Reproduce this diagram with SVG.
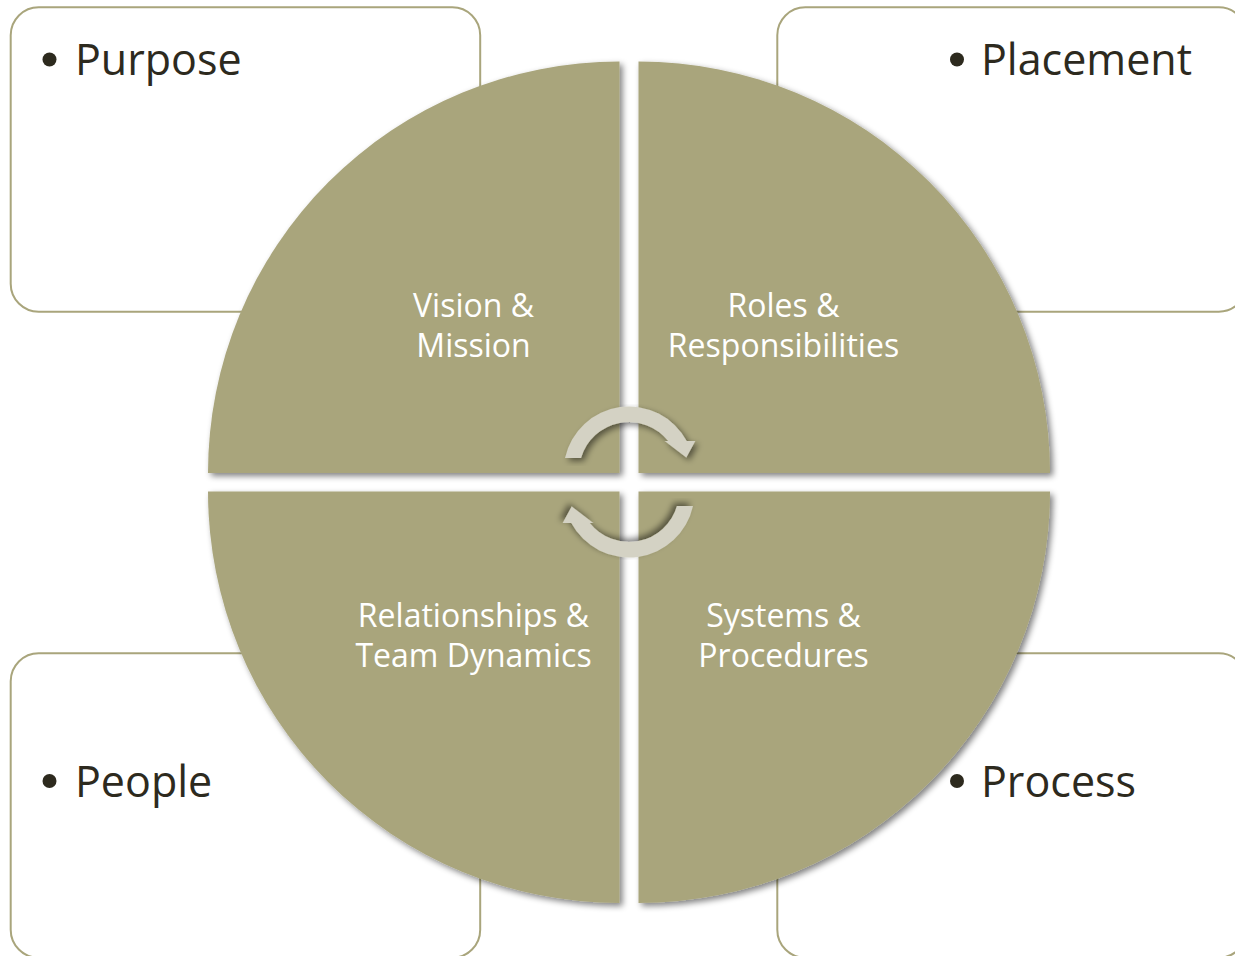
<svg xmlns="http://www.w3.org/2000/svg" width="1235" height="956" viewBox="0 0 1235 956">
  <style>
    .box { fill: #ffffff; stroke: #a9a57c; stroke-width: 2; }
    .bullet { fill: #2d2a1e; }
    .item { font-family: "Open Sans", "Liberation Sans", sans-serif; font-size: 43px; fill: #2d2a1e; }
    .quad { fill: #a9a57c; filter: url(#soft); }
    .label { font-family: "Open Sans", "Liberation Sans", sans-serif; font-size: 32px; fill: #ffffff; text-anchor: middle; }
    .cycle { fill: #d4d2c4; filter: url(#soft); }
  </style>
  <defs>
    <filter id="soft" x="-10%" y="-10%" width="125%" height="125%">
      <feGaussianBlur in="SourceAlpha" stdDeviation="3"/>
      <feOffset dx="3" dy="3" result="b"/>
      <feComponentTransfer><feFuncA type="linear" slope="0.5"/></feComponentTransfer>
      <feMerge><feMergeNode/><feMergeNode in="SourceGraphic"/></feMerge>
    </filter>
    <!-- half-turn arrow: band around (629,472), head pointing down on the right -->
    <path id="turn" d="M 565 458 A 65.5 65.5 0 0 1 686.7 441 L 695.3 441 L 686.3 457.5 L 664.7 441 L 668.2 441 A 50 50 0 0 0 581 458 Z"/>
  </defs>

  <!-- corner boxes -->
  <g id="box-purpose">
    <rect class="box" x="10.7" y="7.3" width="469.5" height="304.4" rx="28"/>
    <circle class="bullet" cx="49.5" cy="59.5" r="7"/>
    <text class="item" x="75" y="75">Purpose</text>
  </g>
  <g id="box-placement">
    <rect class="box" x="777.3" y="7.3" width="469.5" height="304.4" rx="28"/>
    <circle class="bullet" cx="957" cy="59.5" r="7"/>
    <text class="item" x="981" y="75">Placement</text>
  </g>
  <g id="box-people">
    <rect class="box" x="10.7" y="653.3" width="469.5" height="304.4" rx="28"/>
    <circle class="bullet" cx="49.5" cy="781" r="7"/>
    <text class="item" x="75" y="797">People</text>
  </g>
  <g id="box-process">
    <rect class="box" x="777.3" y="653.3" width="469.5" height="304.4" rx="28"/>
    <circle class="bullet" cx="957" cy="781" r="7"/>
    <text class="item" x="981" y="797">Process</text>
  </g>

  <!-- circle quarters -->
  <g id="vision-mission">
    <path class="quad" d="M 619.5 473 L 208 473 A 411.5 411.5 0 0 1 619.5 61.5 Z"/>
    <text class="label" x="473.5" y="317">Vision &amp;</text>
    <text class="label" x="473.5" y="357">Mission</text>
  </g>
  <g id="roles-responsibilities">
    <path class="quad" d="M 638.5 473 L 638.5 61.5 A 411.5 411.5 0 0 1 1050 473 Z"/>
    <text class="label" x="783.5" y="317">Roles &amp;</text>
    <text class="label" x="783.5" y="357">Responsibilities</text>
  </g>
  <g id="relationships-team">
    <path class="quad" d="M 619.5 491.5 L 619.5 903 A 411.5 411.5 0 0 1 208 491.5 Z"/>
    <text class="label" x="473.5" y="627">Relationships &amp;</text>
    <text class="label" x="473.5" y="667">Team Dynamics</text>
  </g>
  <g id="systems-procedures">
    <path class="quad" d="M 638.5 491.5 L 1050 491.5 A 411.5 411.5 0 0 1 638.5 903 Z"/>
    <text class="label" x="783.5" y="627">Systems &amp;</text>
    <text class="label" x="783.5" y="667">Procedures</text>
  </g>

  <!-- cycle arrows -->
  <g id="connectors">
    <use href="#turn" class="cycle"/>
    <use href="#turn" class="cycle" transform="rotate(180 629 482)"/>
  </g>
</svg>
